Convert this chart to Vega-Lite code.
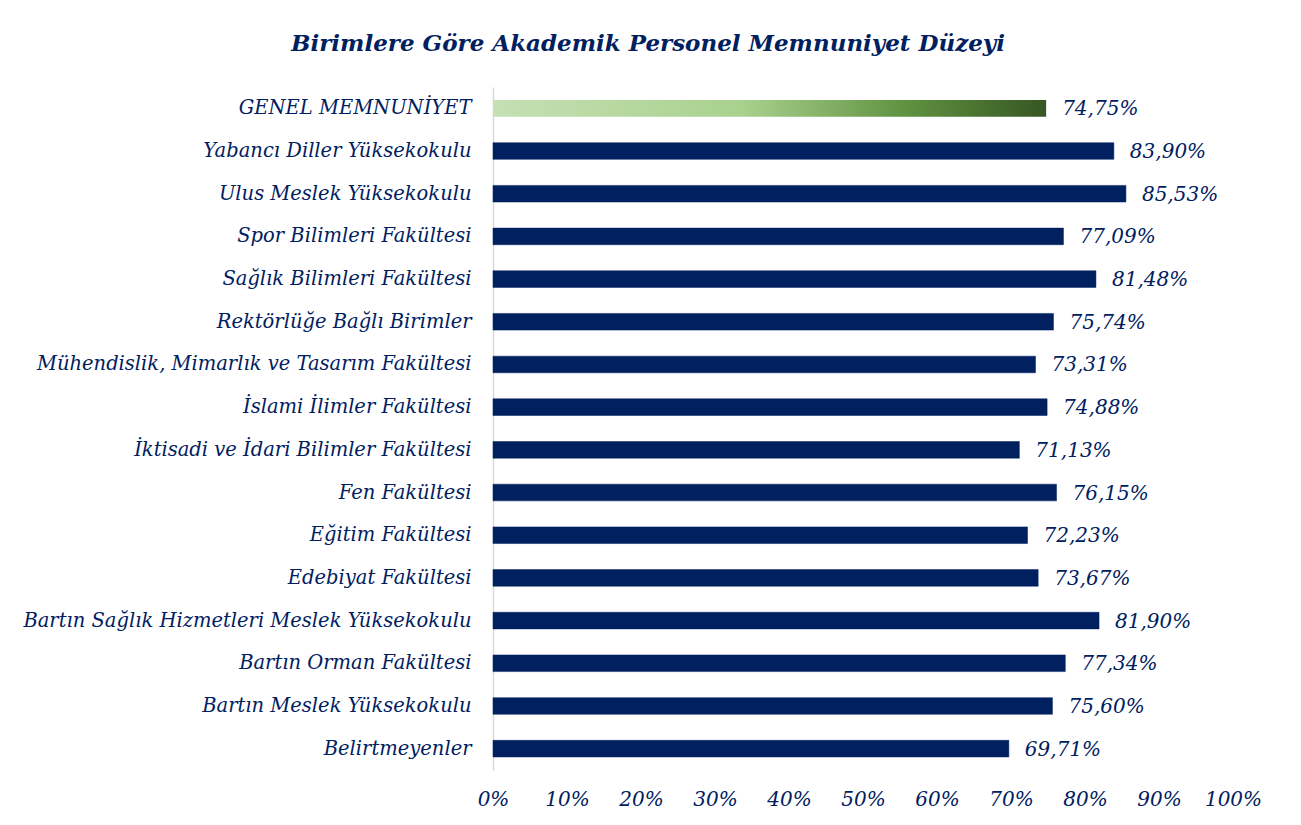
{
  "$schema": "https://vega.github.io/schema/vega-lite/v6.json",
  "width": 740,
  "height": 683,
  "autosize": {"type": "none"},
  "padding": {"left": 493, "top": 87, "right": 68, "bottom": 55},
  "background": "white",
  "config": {
    "locale": {"number": {"decimal": ",", "thousands": ".", "grouping": [3], "currency": ["", " ₺"]}},
    "view": {"stroke": null},
    "font": "DejaVu Serif"
  },
  "title": {
    "text": "Birimlere Göre Akademik Personel Memnuniyet Düzeyi",
    "font": "DejaVu Serif",
    "fontSize": 23,
    "fontWeight": "bold",
    "fontStyle": "italic",
    "color": "#002060",
    "anchor": "middle",
    "dx": -215,
    "offset": 31
  },
  "data": {
    "values": [
      {"birim": "GENEL MEMNUNİYET", "oran": 0.7475, "tur": "genel"},
      {"birim": "Yabancı Diller Yüksekokulu", "oran": 0.8390, "tur": "birim"},
      {"birim": "Ulus Meslek Yüksekokulu", "oran": 0.8553, "tur": "birim"},
      {"birim": "Spor Bilimleri Fakültesi", "oran": 0.7709, "tur": "birim"},
      {"birim": "Sağlık Bilimleri Fakültesi", "oran": 0.8148, "tur": "birim"},
      {"birim": "Rektörlüğe Bağlı Birimler", "oran": 0.7574, "tur": "birim"},
      {"birim": "Mühendislik, Mimarlık ve Tasarım Fakültesi", "oran": 0.7331, "tur": "birim"},
      {"birim": "İslami İlimler Fakültesi", "oran": 0.7488, "tur": "birim"},
      {"birim": "İktisadi ve İdari Bilimler Fakültesi", "oran": 0.7113, "tur": "birim"},
      {"birim": "Fen Fakültesi", "oran": 0.7615, "tur": "birim"},
      {"birim": "Eğitim Fakültesi", "oran": 0.7223, "tur": "birim"},
      {"birim": "Edebiyat Fakültesi", "oran": 0.7367, "tur": "birim"},
      {"birim": "Bartın Sağlık Hizmetleri Meslek Yüksekokulu", "oran": 0.8190, "tur": "birim"},
      {"birim": "Bartın Orman Fakültesi", "oran": 0.7734, "tur": "birim"},
      {"birim": "Bartın Meslek Yüksekokulu", "oran": 0.7560, "tur": "birim"},
      {"birim": "Belirtmeyenler", "oran": 0.6971, "tur": "birim"}
    ]
  },
  "encoding": {
    "y": {
      "field": "birim",
      "type": "nominal",
      "sort": ["GENEL MEMNUNİYET", "Yabancı Diller Yüksekokulu", "Ulus Meslek Yüksekokulu", "Spor Bilimleri Fakültesi", "Sağlık Bilimleri Fakültesi", "Rektörlüğe Bağlı Birimler", "Mühendislik, Mimarlık ve Tasarım Fakültesi", "İslami İlimler Fakültesi", "İktisadi ve İdari Bilimler Fakültesi", "Fen Fakültesi", "Eğitim Fakültesi", "Edebiyat Fakültesi", "Bartın Sağlık Hizmetleri Meslek Yüksekokulu", "Bartın Orman Fakültesi", "Bartın Meslek Yüksekokulu", "Belirtmeyenler"],
      "scale": {"paddingInner": 0.61, "paddingOuter": 0.305},
      "axis": {
        "title": null,
        "ticks": false,
        "domain": true,
        "domainColor": "#d9d9d9",
        "domainWidth": 1.5,
        "labelFont": "DejaVu Serif",
        "labelFontStyle": "italic",
        "labelFontSize": 19.5,
        "labelColor": "#002060",
        "labelPadding": 22,
        "labelLimit": 600
      }
    },
    "x": {
      "field": "oran",
      "type": "quantitative",
      "scale": {"domain": [0, 1], "nice": false},
      "axis": {
        "title": null,
        "format": ".0%",
        "values": [0, 0.1, 0.2, 0.3, 0.4, 0.5, 0.6, 0.7, 0.8, 0.9, 1],
        "grid": false,
        "ticks": false,
        "domain": false,
        "labelFlush": false,
        "labelOverlap": false,
        "labelFont": "DejaVu Serif",
        "labelFontStyle": "italic",
        "labelFontSize": 20,
        "labelColor": "#002060",
        "labelPadding": 19
      }
    }
  },
  "layer": [
    {
      "transform": [{"filter": "datum.tur === 'birim'"}],
      "mark": {"type": "bar", "color": "#002060", "stroke": "#002060", "strokeWidth": 0.5}
    },
    {
      "transform": [{"filter": "datum.tur === 'genel'"}],
      "mark": {
        "type": "bar",
        "color": {
          "gradient": "linear",
          "x1": 0, "y1": 0, "x2": 1, "y2": 0,
          "stops": [
            {"offset": 0, "color": "#c5e0b4"},
            {"offset": 0.45, "color": "#a9d18e"},
            {"offset": 0.75, "color": "#5f9140"},
            {"offset": 1, "color": "#375623"}
          ]
        }
      }
    },
    {
      "mark": {
        "type": "text",
        "align": "left",
        "baseline": "middle",
        "dx": 16,
        "dy": 1,
        "font": "DejaVu Serif",
        "fontStyle": "italic",
        "fontSize": 20,
        "color": "#002060"
      },
      "encoding": {
        "text": {"field": "oran", "type": "quantitative", "format": ".2%"}
      }
    }
  ]
}
